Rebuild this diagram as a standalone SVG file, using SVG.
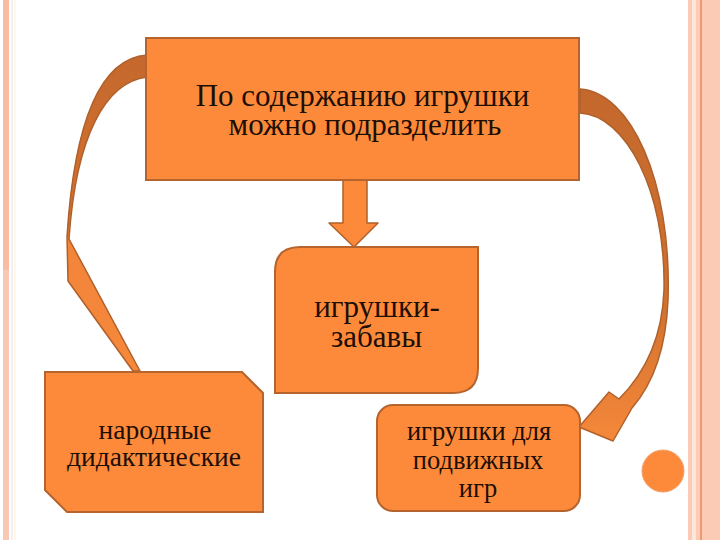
<svg xmlns="http://www.w3.org/2000/svg" width="720" height="540" viewBox="0 0 720 540">
  <defs>
    <style>
      .box { fill: #FC8A3A; stroke: #B5642D; stroke-width: 2; }
      .conn { stroke: #B0602A; stroke-width: 1.5; stroke-linejoin: round; }
    </style>
    <linearGradient id="gR" gradientUnits="userSpaceOnUse" x1="0" y1="90" x2="0" y2="440">
      <stop offset="0" stop-color="#C4682D"/>
      <stop offset="0.6" stop-color="#D0712F"/>
      <stop offset="1" stop-color="#F5883A"/>
    </linearGradient>
    <linearGradient id="gL" gradientUnits="userSpaceOnUse" x1="0" y1="55" x2="0" y2="370">
      <stop offset="0" stop-color="#C4682D"/>
      <stop offset="0.55" stop-color="#D5732F"/>
      <stop offset="0.6" stop-color="#F2853A"/>
      <stop offset="1" stop-color="#F5883A"/>
    </linearGradient>
  </defs>

  <g id="decor">
    <rect x="3" y="0" width="6" height="270" fill="#F8BCA3"/>
    <rect x="3" y="270" width="6" height="270" fill="#F9C8B4"/>
    <line x1="12" y1="0" x2="12" y2="540" stroke="#F3DCE0" stroke-width="1"/>
    <line x1="15" y1="0" x2="15" y2="540" stroke="#FBF1D8" stroke-width="1"/>
    <rect x="688" y="0" width="4" height="540" fill="#FBCBB7"/>
    <rect x="692" y="0" width="4" height="540" fill="#FDE6DA"/>
    <rect x="696" y="0" width="4" height="540" fill="#FBCBB7"/>
    <rect x="700" y="0" width="2" height="540" fill="#EE9A6A"/>
    <rect x="702" y="0" width="18" height="540" fill="#FCCBB6"/>
    <circle cx="663" cy="471" r="21" fill="#FC8A3A" stroke="#F0A070" stroke-width="1"/>
  </g>

  <g id="connectors">
    <path class="conn" fill="url(#gL)" d="M147,55 C105,58 75,110 67,237 L68,281 L133,371 L140,371 L69,239 C76,135 106,82 147,77 Z"/>
    <path class="conn" fill="url(#gR)" d="M580,89 C630,92 672,180 668,300 C666,350 652,385 632,408 L613,441 L579,427 L609,392 L619,399 C640,378 662,345 664,290 C666,190 625,115 580,113 Z"/>
    <path class="conn" fill="#FC8A3A" d="M343,180 L367,180 L367,223 L378,223 L354,247 L329,223 L343,223 Z"/>
  </g>

  <g id="node-top">
    <rect class="box" x="146" y="38" width="433" height="142"/>
    <text font-family="Liberation Serif" fill="#1E0E04" text-anchor="middle" font-size="31" x="362.5" y="106">По содержанию игрушки</text>
    <text font-family="Liberation Serif" fill="#1E0E04" text-anchor="middle" font-size="31" x="365" y="135">можно подразделить</text>
  </g>

  <g id="node-zabavy">
    <path class="box" d="M300,247 L478,247 L478,368 Q478,393 453,393 L275,393 L275,272 Q275,247 300,247 Z"/>
    <text font-family="Liberation Serif" fill="#1E0E04" text-anchor="middle" font-size="31" x="377" y="317">игрушки-</text>
    <text font-family="Liberation Serif" fill="#1E0E04" text-anchor="middle" font-size="31" x="376.5" y="347">забавы</text>
  </g>

  <g id="node-narodnye">
    <path class="box" d="M45,372 L242,372 L263,393 L263,512 L67,512 L45,490 Z"/>
    <text font-family="Liberation Serif" fill="#1E0E04" text-anchor="middle" font-size="27.5" x="155" y="439">народные</text>
    <text font-family="Liberation Serif" fill="#1E0E04" text-anchor="middle" font-size="27.5" x="154" y="466">дидактические</text>
  </g>

  <g id="node-podvizhnye">
    <rect class="box" x="377" y="405" width="203" height="106" rx="16" ry="16"/>
    <text font-family="Liberation Serif" fill="#1E0E04" text-anchor="middle" font-size="26.5" x="479" y="440">игрушки для</text>
    <text font-family="Liberation Serif" fill="#1E0E04" text-anchor="middle" font-size="26.5" x="478" y="469">подвижных</text>
    <text font-family="Liberation Serif" fill="#1E0E04" text-anchor="middle" font-size="26.5" x="478" y="497">игр</text>
  </g>
</svg>
